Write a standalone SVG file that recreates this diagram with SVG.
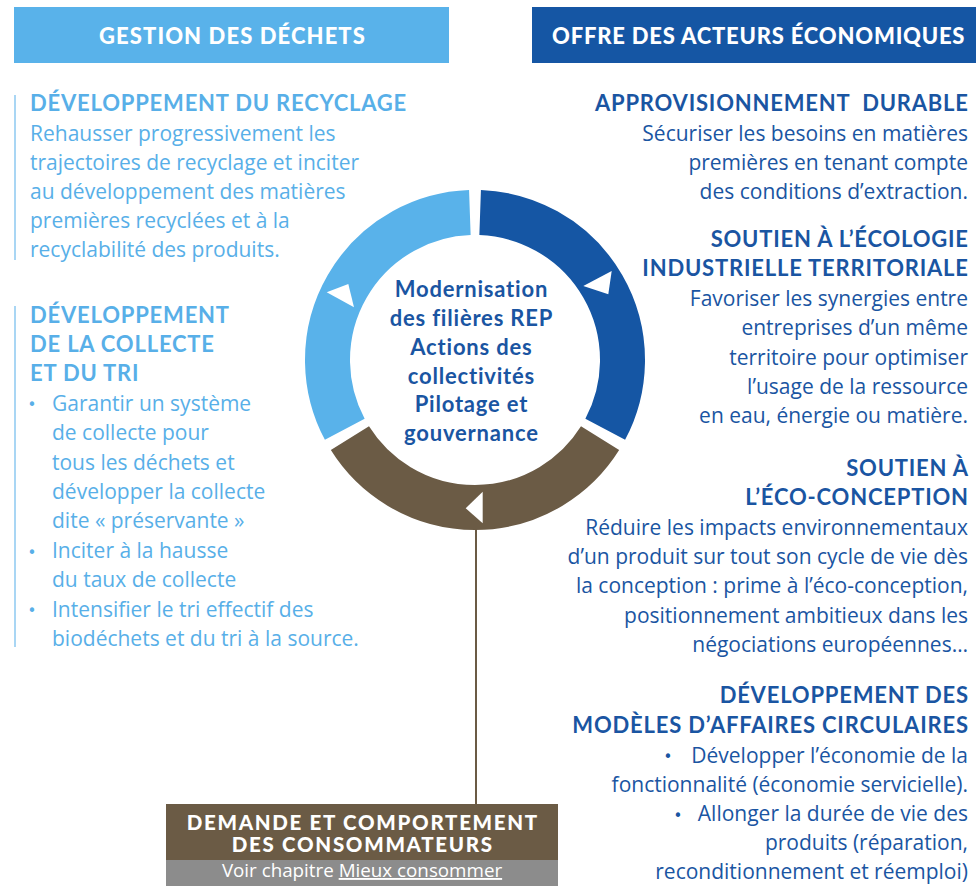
<svg xmlns="http://www.w3.org/2000/svg" width="976" height="886" viewBox="0 0 976 886">
<style>
.hdr{font-family:Lato,"Open Sans","DejaVu Sans",sans-serif;font-weight:900;font-size:22px;fill:#fff;text-anchor:middle}
.lt{font-family:Lato,"Open Sans","DejaVu Sans",sans-serif;font-weight:700;font-size:22px;letter-spacing:0.8px;fill:#58AFE8}
.lb{font-family:"Open Sans",Lato,"DejaVu Sans",sans-serif;font-weight:400;font-size:21px;fill:#58AFE8}
.rt{font-family:Lato,"Open Sans","DejaVu Sans",sans-serif;font-weight:700;font-size:22px;letter-spacing:0.8px;fill:#1A55A2;text-anchor:end}
.rb{font-family:"Open Sans",Lato,"DejaVu Sans",sans-serif;font-weight:400;font-size:21px;fill:#1A55A2;text-anchor:end}
.ct{font-family:Lato,"Open Sans","DejaVu Sans",sans-serif;font-weight:700;font-size:22px;letter-spacing:0.8px;fill:#1A55A2;text-anchor:middle}
.bt{font-family:Lato,"Open Sans","DejaVu Sans",sans-serif;font-weight:900;font-size:20.5px;letter-spacing:1.7px;fill:#fff;text-anchor:middle}
.bs{font-family:"Open Sans",Lato,"DejaVu Sans",sans-serif;font-weight:400;font-size:18.8px;fill:#fff;text-anchor:middle}
.bl{font-family:"DejaVu Sans",sans-serif;font-size:15px;text-anchor:middle}
.arc{fill:none;stroke-width:45}
.flag{fill:#fff}
</style>

<g id="header-gestion">
<rect x="14" y="7" width="435" height="56" fill="#59B2EA"/>
<text class="hdr" x="232.5" y="44" letter-spacing="1.1">GESTION DES DÉCHETS</text>
</g>
<g id="header-offre">
<rect x="532" y="7" width="444" height="56" fill="#1556A4"/>
<text class="hdr" x="758.7" y="44" letter-spacing="0.8">OFFRE DES ACTEURS ÉCONOMIQUES</text>
</g>

<g id="cycle">
<path class="arc" stroke="#1556A4" d="M480.15,212.59 A147.5,147.5 0 0 1 605.23,429.25"/>
<path class="arc" stroke="#6B5B45" d="M600.08,438.16 A147.5,147.5 0 0 1 349.92,438.16"/>
<path class="arc" stroke="#59B2EA" d="M344.77,429.25 A147.5,147.5 0 0 1 469.85,212.59"/>
<polygon class="flag" points="326.7,292.3 348.3,284 354,307.3"/>
<polygon class="flag" points="583.3,286 611.7,271 608.3,294.3"/>
<polygon class="flag" points="465.7,508.3 482.7,491.7 482.7,523.3"/>
<text class="ct" x="471.4" y="297">Modernisation</text>
<text class="ct" x="471.4" y="326">des filières REP</text>
<text class="ct" x="471.4" y="355">Actions des</text>
<text class="ct" x="471.4" y="383.5">collectivités</text>
<text class="ct" x="471.4" y="412">Pilotage et</text>
<text class="ct" x="471.4" y="441">gouvernance</text>
</g>

<g id="connectors">
<line x1="476" y1="527" x2="476" y2="804" stroke="#6B5B45" stroke-width="2"/>
</g>

<g id="recyclage">
<line x1="15" y1="95" x2="15" y2="260" stroke="#8CC8F0" stroke-width="1.5"/>
<text class="lt" x="30" y="111">DÉVELOPPEMENT DU RECYCLAGE</text>
<text class="lb" x="30" y="140.7">Rehausser progressivement les</text>
<text class="lb" x="30" y="169.7">trajectoires de recyclage et inciter</text>
<text class="lb" x="30" y="198.7">au développement des matières</text>
<text class="lb" x="30" y="227.7">premières recyclées et à la</text>
<text class="lb" x="30" y="256.7">recyclabilité des produits.</text>
</g>

<g id="collecte">
<line x1="15" y1="306" x2="15" y2="647" stroke="#8CC8F0" stroke-width="1.5"/>
<text class="lt" x="30" y="323">DÉVELOPPEMENT</text>
<text class="lt" x="30" y="352">DE LA COLLECTE</text>
<text class="lt" x="30" y="381">ET DU TRI</text>
<text class="bl" x="32" y="410" fill="#58AFE8">•</text>
<text class="lb" x="52" y="410.5">Garantir un système</text>
<text class="lb" x="52" y="440">de collecte pour</text>
<text class="lb" x="52" y="469.5">tous les déchets et</text>
<text class="lb" x="52" y="499">développer la collecte</text>
<text class="lb" x="52" y="528">dite « préservante »</text>
<text class="bl" x="32" y="557.5" fill="#58AFE8">•</text>
<text class="lb" x="52" y="558">Inciter à la hausse</text>
<text class="lb" x="52" y="587">du taux de collecte</text>
<text class="bl" x="32" y="616" fill="#58AFE8">•</text>
<text class="lb" x="52" y="616.5">Intensifier le tri effectif des</text>
<text class="lb" x="52" y="646">biodéchets et du tri à la source.</text>
</g>

<g id="approvisionnement">
<text class="rt" x="968.8" y="110.7" xml:space="preserve">APPROVISIONNEMENT  DURABLE</text>
<text class="rb" x="968" y="140.7">Sécuriser les besoins en matières</text>
<text class="rb" x="968" y="170">premières en tenant compte</text>
<text class="rb" x="968" y="199">des conditions d’extraction.</text>
</g>

<g id="ecologie">
<text class="rt" x="968.8" y="246.7">SOUTIEN À L’ÉCOLOGIE</text>
<text class="rt" x="968.8" y="276">INDUSTRIELLE TERRITORIALE</text>
<text class="rb" x="968" y="306">Favoriser les synergies entre</text>
<text class="rb" x="968" y="335">entreprises d’un même</text>
<text class="rb" x="968" y="364.5">territoire pour optimiser</text>
<text class="rb" x="968" y="394">l’usage de la ressource</text>
<text class="rb" x="968" y="423.3">en eau, énergie ou matière.</text>
</g>

<g id="eco-conception">
<text class="rt" x="968.8" y="476">SOUTIEN À</text>
<text class="rt" x="968.8" y="505">L’ÉCO-CONCEPTION</text>
<text class="rb" x="968" y="535">Réduire les impacts environnementaux</text>
<text class="rb" x="968" y="564">d’un produit sur tout son cycle de vie dès</text>
<text class="rb" x="968" y="593">la conception : prime à l’éco-conception,</text>
<text class="rb" x="968" y="622.7">positionnement ambitieux dans les</text>
<text class="rb" x="968" y="651.7">négociations européennes…</text>
</g>

<g id="modeles">
<text class="rt" x="968.8" y="703.3">DÉVELOPPEMENT DES</text>
<text class="rt" x="968.8" y="732.7">MODÈLES D’AFFAIRES CIRCULAIRES</text>
<text class="bl" x="668" y="762" fill="#1A55A2">•</text>
<text class="rb" x="968" y="762.7">Développer l’économie de la</text>
<text class="rb" x="968" y="791.7">fonctionnalité (économie servicielle).</text>
<text class="bl" x="678" y="820.5" fill="#1A55A2">•</text>
<text class="rb" x="968" y="821">Allonger la durée de vie des</text>
<text class="rb" x="968" y="850">produits (réparation,</text>
<text class="rb" x="968" y="879.3">reconditionnement et réemploi)</text>
</g>

<g id="demande">
<rect x="166" y="804" width="392" height="56" fill="#6B5B45"/>
<rect x="166" y="860" width="392" height="26" fill="#8C8C8C"/>
<text class="bt" x="362.8" y="830">DEMANDE ET COMPORTEMENT</text>
<text class="bt" x="362.8" y="852">DES CONSOMMATEURS</text>
<text class="bs" x="362" y="877">Voir chapitre <tspan text-decoration="underline">Mieux consommer</tspan></text>
</g>
</svg>
